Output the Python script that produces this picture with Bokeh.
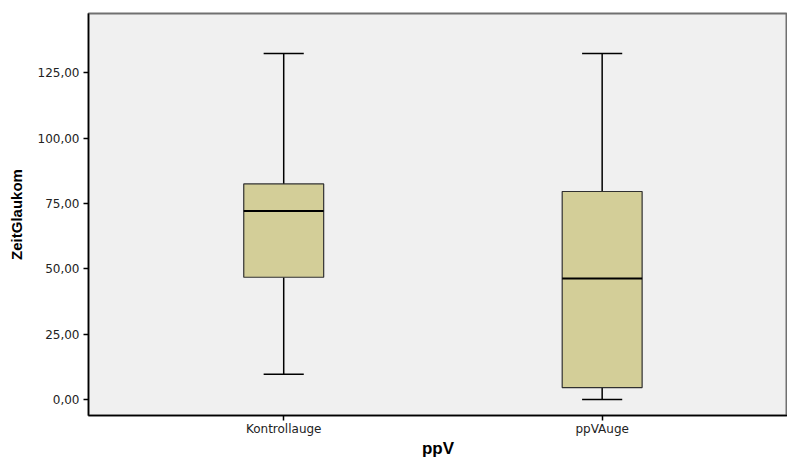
from bokeh.plotting import figure
from bokeh.models import ColumnDataSource, FixedTicker, Range1d
from bokeh.embed import file_html
from bokeh.resources import INLINE

categories = ["Kontrollauge", "ppVAuge"]
whisker_low = [9.7, 0.0]
q1 = [46.8, 4.6]
median = [72.1, 46.3]
q3 = [82.5, 79.6]
whisker_high = [132.4, 132.4]
y_ticks = [0, 25, 50, 75, 100, 125]
y_tick_labels = ["0,00", "25,00", "50,00", "75,00", "100,00", "125,00"]

xpos = list(range(len(categories)))
box_w = 0.251
cap_w = 0.126
y_start, y_end = -6.1, 147.7

src = ColumnDataSource(dict(
    x=xpos, low=whisker_low, q1=q1, med=median, q3=q3, high=whisker_high,
    xl=[x - box_w / 2 for x in xpos], xr=[x + box_w / 2 for x in xpos],
    cl=[x - cap_w / 2 for x in xpos], cr=[x + cap_w / 2 for x in xpos],
))

p = figure(width=787, height=461, output_backend="svg", toolbar_location=None,
           x_range=Range1d(-0.613, 1.582), y_range=Range1d(y_start, y_end),
           min_border_left=88, min_border_right=0, min_border_top=13, min_border_bottom=46)
p.background_fill_color = "#f0f0f0"
p.border_fill_color = "white"
p.outline_line_color = "#707070"
p.outline_line_width = 2
p.xgrid.visible = False
p.ygrid.visible = False

# whiskers
p.segment(x0="x", y0="q3", x1="x", y1="high", source=src, line_color="black", line_width=1.5)
p.segment(x0="x", y0="low", x1="x", y1="q1", source=src, line_color="black", line_width=1.5)
p.segment(x0="cl", y0="high", x1="cr", y1="high", source=src, line_color="black", line_width=1.5)
p.segment(x0="cl", y0="low", x1="cr", y1="low", source=src, line_color="black", line_width=1.5)
# boxes
p.vbar(x="x", width=box_w, bottom="q1", top="q3", source=src,
       fill_color="#d3ce98", line_color="#303030", line_width=1.2)
# medians
p.segment(x0="xl", y0="med", x1="xr", y1="med", source=src, line_color="black", line_width=2)

p.yaxis.ticker = FixedTicker(ticks=y_ticks)
p.yaxis.major_label_overrides = {float(t): l for t, l in zip(y_ticks, y_tick_labels)}
p.xaxis.ticker = FixedTicker(ticks=xpos)
p.xaxis.major_label_overrides = {float(i): c for i, c in zip(xpos, categories)}

for ax in (p.xaxis[0], p.yaxis[0]):
    ax.axis_line_color = "black"
    ax.axis_line_width = 1.5
    ax.major_tick_line_color = "black"
    ax.major_tick_line_width = 1.5
    ax.major_tick_in = 0
    ax.major_tick_out = 5
    ax.minor_tick_line_color = None
    ax.major_label_text_font = "DejaVu Sans"
    ax.major_label_text_font_size = "12px"
    ax.major_label_text_color = "#222222"
    ax.major_label_text_line_height = 0.9
    ax.axis_label_text_font = "Liberation Sans"
    ax.axis_label_text_font_style = "bold"
    ax.axis_label_text_color = "black"
    ax.axis_label_text_line_height = 0.9

p.xaxis.axis_label = "ppV"
p.xaxis.axis_label_text_font_size = "17px"
p.yaxis.axis_label = "ZeitGlaukom"
p.yaxis.axis_label_text_font_size = "15px"
p.xaxis.major_label_standoff = 1
p.xaxis.axis_label_standoff = 0
p.yaxis.major_label_standoff = 4
p.yaxis.axis_label_standoff = 10

open("out.html", "w").write(file_html(p, INLINE))
